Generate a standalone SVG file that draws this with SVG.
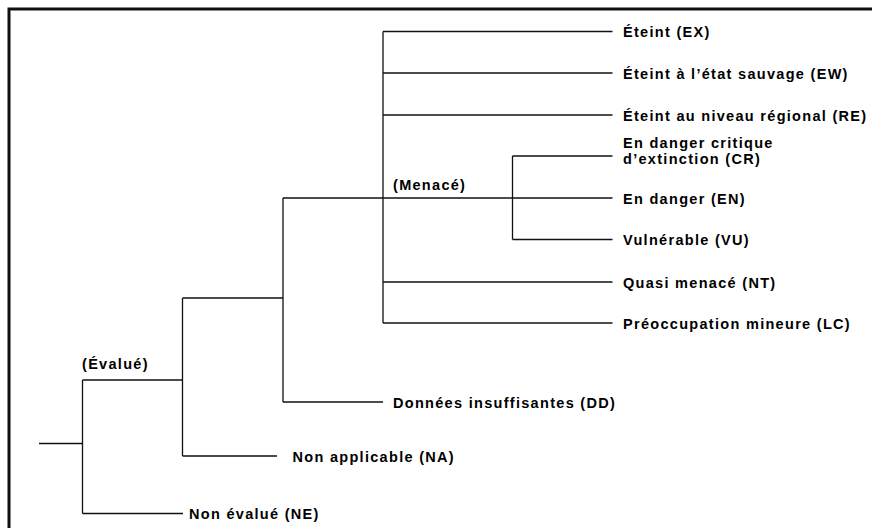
<svg xmlns="http://www.w3.org/2000/svg" width="872" height="528" viewBox="0 0 872 528">
<style>
.ln{stroke:#111;stroke-width:1.3;fill:none}
.lb{font-family:"Liberation Sans",Arial,Helvetica,sans-serif;font-weight:bold;font-size:14.5px;letter-spacing:1.3px;fill:#000}
</style>
<rect width="872" height="528" fill="#fff"/>
<path d="M9,528 V9 H872" stroke="#111" stroke-width="3" fill="none"/>
<g id="connectors">
<path class="ln" d="M39,443.5 H82.5 M82.5,380 V513.5 M82.5,380 H182.5 M82.5,513.5 H183"/>
<path class="ln" d="M182.5,298 V456 M182.5,456 H277 M182.5,298 H283"/>
<path class="ln" d="M283,198 V402 M283,402 H383 M283,198 H612.5"/>
<path class="ln" d="M383,31.5 V323 M383,31.5 H612.5 M383,73 H612.5 M383,115 H612.5 M383,282 H612.5 M383,323 H612.5"/>
<path class="ln" d="M512.5,156 V239.5 M512.5,156 H612.5 M512.5,239.5 H612.5"/>
</g>
<g id="evalue"><text class="lb" x="82" y="369">(Évalué)</text></g>
<g id="menace"><text class="lb" x="393" y="190">(Menacé)</text></g>
<g id="ex"><text class="lb" x="623" y="37">Éteint (EX)</text></g>
<g id="ew"><text class="lb" x="623" y="78.5">Éteint à l’état sauvage (EW)</text></g>
<g id="re"><text class="lb" x="623" y="120.5">Éteint au niveau régional (RE)</text></g>
<g id="cr"><text class="lb" x="623" y="148"><tspan x="623" y="148">En danger critique</tspan><tspan x="623" y="164">d’extinction (CR)</tspan></text></g>
<g id="en"><text class="lb" x="623" y="203.5">En danger (EN)</text></g>
<g id="vu"><text class="lb" x="623" y="245">Vulnérable (VU)</text></g>
<g id="nt"><text class="lb" x="623" y="287.5">Quasi menacé (NT)</text></g>
<g id="lc"><text class="lb" x="623" y="328.5">Préoccupation mineure (LC)</text></g>
<g id="dd"><text class="lb" x="393" y="407.5">Données insuffisantes (DD)</text></g>
<g id="na"><text class="lb" x="292.5" y="461.5">Non applicable (NA)</text></g>
<g id="ne"><text class="lb" x="189" y="519">Non évalué (NE)</text></g>
</svg>
